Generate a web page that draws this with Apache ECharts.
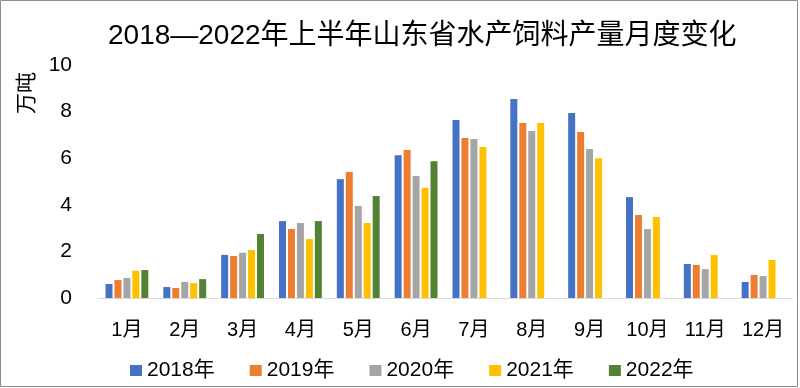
<!DOCTYPE html>
<html><head><meta charset="utf-8">
<script src="https://cdn.jsdelivr.net/npm/echarts@6/dist/echarts.min.js"></script>
<style>html,body{margin:0;padding:0;background:#fff}#c{width:800px;height:388px}</style>
</head><body><div id="c"></div>
<script>
const categories = ['1月','2月','3月','4月','5月','6月','7月','8月','9月','10月','11月','12月'];
const seriesNames = ['2018年','2019年','2020年','2021年','2022年'];
const s2018 = [0.6,0.47,1.85,3.3,5.1,6.13,7.64,8.54,7.94,4.33,1.46,0.69];
const s2019 = [0.77,0.43,1.8,2.96,5.41,6.35,6.87,7.51,7.12,3.56,1.42,0.99];
const s2020 = [0.86,0.69,1.94,3.22,3.95,5.24,6.82,7.17,6.39,2.96,1.24,0.94];
const s2021 = [1.17,0.64,2.06,2.53,3.22,4.73,6.48,7.51,6.0,3.48,1.85,1.63];
const s2022 = [1.2,0.81,2.75,3.3,4.38,5.87,null,null,null,null,null,null];
const yTicks = [0,2,4,6,8,10];
const colors = ['#4472C4','#ED7D31','#A5A5A5','#FFC000','#548235'];
const font = "'Liberation Sans', Arial, 'Noto Sans CJK SC', sans-serif";
const allData = [s2018,s2019,s2020,s2021,s2022];
const chart = echarts.init(document.getElementById('c'), null, {renderer:'canvas'});
chart.setOption({
  animation:false,
  textStyle:{fontFamily:font},
  title:{text:'2018—2022年上半年山东省水产饲料产量月度变化',left:103,top:17,
    textStyle:{fontFamily:font,fontSize:28,fontWeight:'normal',color:'#000'}},
  legend:{top:355,left:125,itemWidth:12,itemHeight:11,itemGap:35,icon:'rect',
    textStyle:{fontFamily:font,fontSize:21,color:'#000'},data:seriesNames},
  grid:{left:98,right:8,top:65,bottom:90},
  xAxis:{type:'category',data:categories,
    axisLine:{lineStyle:{color:'#D9D9D9'}},axisTick:{show:false},
    axisLabel:{fontSize:20,color:'#000',margin:22,fontFamily:font}},
  yAxis:{type:'value',min:yTicks[0],max:yTicks[yTicks.length-1],interval:2,
    splitLine:{show:false},axisLine:{show:false},axisTick:{show:false},
    axisLabel:{fontSize:21,color:'#000',margin:26,fontFamily:font}},
  graphic:[
    {type:'rect',shape:{x:0.5,y:0.5,width:797,height:386},style:{fill:'none',stroke:'#8C8C8C',lineWidth:1}},
    {type:'text',x:27,y:93,rotation:Math.PI/2,style:{text:'万吨',fontSize:21,fill:'#000',fontFamily:font,align:'center',verticalAlign:'middle'}}
  ],
  series: seriesNames.map((n,i)=>({name:n,type:'bar',data:allData[i],barWidth:7,barGap:'28%',
    itemStyle:{color:colors[i]}}))
});
</script></body></html>
